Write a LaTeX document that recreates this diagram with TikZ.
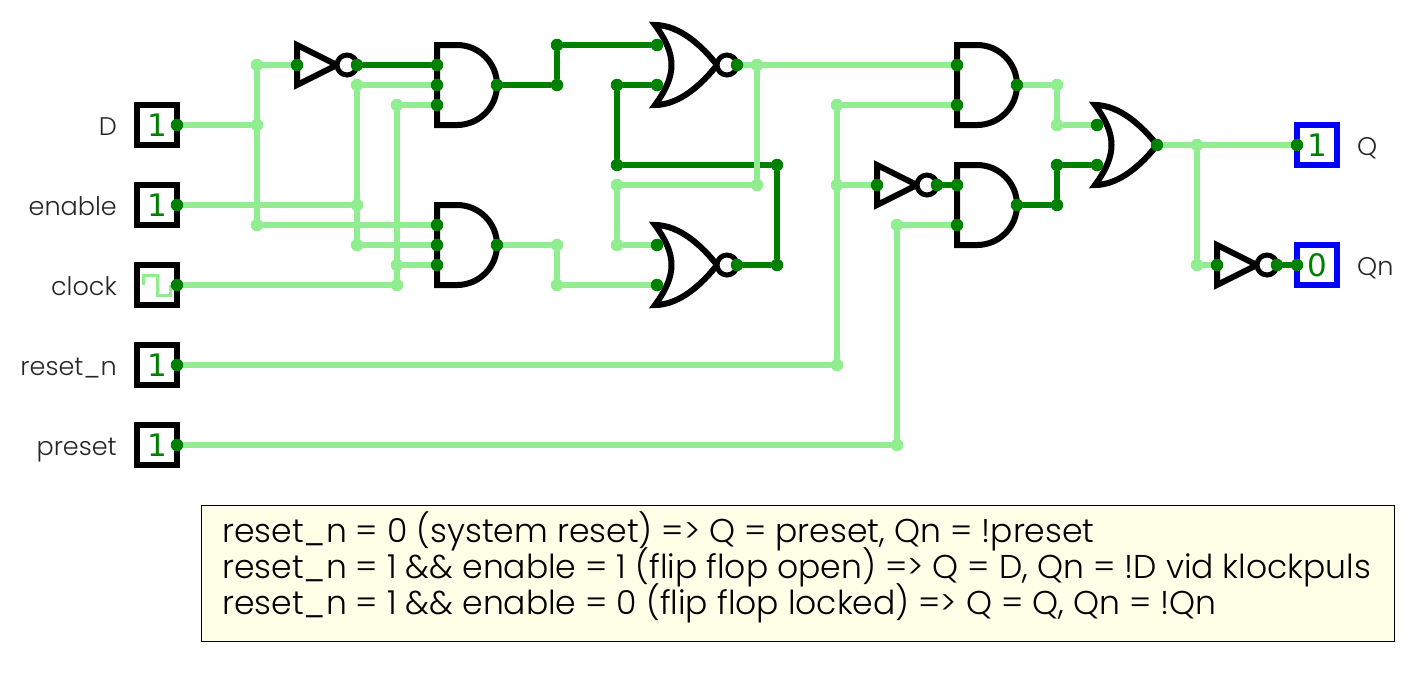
\documentclass[tikz,border=0pt]{standalone}
\usepackage{fontspec}
\setmainfont{Poppins}[UprightFont=* Light]
\newfontfamily\valuefont{DejaVu Sans}
\usepackage{xcolor}
\usetikzlibrary{backgrounds}
\definecolor{wireon}{HTML}{008000}
\definecolor{wireoff}{HTML}{90EE90}
\definecolor{notebg}{HTML}{FFFFE8}
\newcommand{\notefont}{\fontsize{33}{36}\selectfont\setlength{\lineskiplimit}{-50pt}\relax}

\begin{document}
\begin{tikzpicture}[x=1pt, y=-1pt,
    gate/.style={draw, line width=6pt, fill=white, miter limit=10},
    bubble/.style={draw, line width=5pt, fill=white},
    high/.style={draw, line width=6pt, wireon},
    low/.style={draw, line width=6pt, wireoff},
    pin/.style={circle, fill=wireon, inner sep=0pt, minimum size=12.5pt},
    joint/.style={circle, fill=wireoff, inner sep=0pt, minimum size=12.5pt},
    knot/.style={circle, fill=wireon, inner sep=0pt, minimum size=12.5pt},
    inbox/.style={draw, line width=6pt, fill=white, minimum size=40pt, inner sep=0pt, text=wireon, font=\valuefont\fontsize{31}{31}\selectfont},
    outbox/.style={inbox, draw=blue},
    label/.style={text=black!85, font=\fontsize{25.5}{26}\selectfont, inner sep=0pt},
    andgate/.pic={\draw[gate] (0,0) -- (20,0) arc (-90:90:40) -- (0,80) -- cycle;},
    orgate/.pic={\draw[gate] (0,0) .. controls (25,0) and (48,22) .. (62,40) .. controls (48,58) and (25,80) .. (0,80) .. controls (22,50) and (22,30) .. (0,0) -- cycle;},
    notgate/.pic={\draw[gate] (0,0) -- (40,20) -- (0,40) -- cycle; \draw[bubble] (50,20) circle (10);}]
    \useasboundingbox (0,0) rectangle (1424,672);

    % gates first, the pins sit on top of them
    \pic at (297,45) {notgate};
    \pic at (877,165) {notgate};
    \pic at (1217,245) {notgate};
    \pic at (437,45) {andgate};
    \pic at (437,205) {andgate};
    \pic at (957,45) {andgate};
    \pic at (957,165) {andgate};
    \pic at (655,25) {orgate};
    \draw[bubble] (727,65) circle (10);
    \pic at (655,225) {orgate};
    \draw[bubble] (727,265) circle (10);
    \pic at (1095,105) {orgate};

    % inputs and outputs
    \node[inbox] (dbox) at (157,125) {1};
    \node[inbox] (enbox) at (157,205) {1};
    \node[inbox] (clkbox) at (157,285) {};
    \node[inbox] (rstbox) at (157,365) {1};
    \node[inbox] (prebox) at (157,445) {1};
    \node[outbox] (qbox) at (1317,145) {1};
    \node[outbox] (qnbox) at (1317,265) {0};
    \draw[wireoff, line width=3pt] (143,285) |- (157,275) |- (170,295) -- (170,285);

    \node[label, anchor=base east] (dlabel) at (117,135) {D};
    \node[label, anchor=base east] (enlabel) at (117,215) {enable};
    \node[label, anchor=base east] (clklabel) at (117,295) {clock};
    \node[label, anchor=base east] (rstlabel) at (117,375) {reset\_n};
    \node[label, anchor=base east] (prelabel) at (117,455) {preset};
    \node[label, anchor=base west] (qlabel) at (1357,155) {Q};
    \node[label, anchor=base west] (qnlabel) at (1357,275) {Qn};

    % pins
    \node[pin] (dout) at (177,125) {};
    \node[pin] (enout) at (177,205) {};
    \node[pin] (clkout) at (177,285) {};
    \node[pin] (rstout) at (177,365) {};
    \node[pin] (preout) at (177,445) {};
    \node[pin] (notonein) at (297,65) {};
    \node[pin] (notoneout) at (357,65) {};
    \node[pin] (nottwoin) at (877,185) {};
    \node[pin] (nottwoout) at (937,185) {};
    \node[pin] (notthreein) at (1217,265) {};
    \node[pin] (notthreeout) at (1277,265) {};
    \node[pin] (andonea) at (437,65) {};
    \node[pin] (andoneb) at (437,85) {};
    \node[pin] (andonec) at (437,105) {};
    \node[pin] (andoneout) at (497,85) {};
    \node[pin] (andtwoa) at (437,225) {};
    \node[pin] (andtwob) at (437,245) {};
    \node[pin] (andtwoc) at (437,265) {};
    \node[pin] (andtwoout) at (497,245) {};
    \node[pin] (noronea) at (657,45) {};
    \node[pin] (noroneb) at (657,85) {};
    \node[pin] (noroneout) at (737,65) {};
    \node[pin] (nortwoa) at (657,245) {};
    \node[pin] (nortwob) at (657,285) {};
    \node[pin] (nortwoout) at (737,265) {};
    \node[pin] (andthreea) at (957,65) {};
    \node[pin] (andthreeb) at (957,105) {};
    \node[pin] (andthreeout) at (1017,85) {};
    \node[pin] (andfoura) at (957,185) {};
    \node[pin] (andfourb) at (957,225) {};
    \node[pin] (andfourout) at (1017,205) {};
    \node[pin] (orina) at (1097,125) {};
    \node[pin] (orinb) at (1097,165) {};
    \node[pin] (orout) at (1157,145) {};
    \node[pin] (qin) at (1297,145) {};
    \node[pin] (qnin) at (1297,265) {};

    % joints of the wires
    \node[joint] (dtop) at (257,65) {};
    \node[joint] (dmid) at (257,125) {};
    \node[joint] (dlow) at (257,225) {};
    \node[joint] (entop) at (357,85) {};
    \node[joint] (enmid) at (357,205) {};
    \node[joint] (enlow) at (357,245) {};
    \node[joint] (clktop) at (397,105) {};
    \node[joint] (clkmid) at (397,265) {};
    \node[joint] (clklow) at (397,285) {};
    \node[knot] (setone) at (557,85) {};
    \node[knot] (settwo) at (557,45) {};
    \node[joint] (rstone) at (557,245) {};
    \node[joint] (rsttwo) at (557,285) {};
    \node[joint] (fbone) at (757,65) {};
    \node[joint] (fbtwo) at (757,185) {};
    \node[joint] (fbthree) at (617,185) {};
    \node[joint] (fbfour) at (617,245) {};
    \node[knot] (bkone) at (777,265) {};
    \node[knot] (bktwo) at (777,165) {};
    \node[knot] (bkthree) at (617,165) {};
    \node[knot] (bkfour) at (617,85) {};
    \node[joint] (rstlow) at (837,365) {};
    \node[joint] (rstmid) at (837,185) {};
    \node[joint] (rsttop) at (837,105) {};
    \node[joint] (prelow) at (897,445) {};
    \node[joint] (pretop) at (897,225) {};
    \node[joint] (upone) at (1057,85) {};
    \node[joint] (uptwo) at (1057,125) {};
    \node[knot] (dnone) at (1057,205) {};
    \node[knot] (dntwo) at (1057,165) {};
    \node[joint] (qjoin) at (1197,145) {};
    \node[joint] (qturn) at (1197,265) {};

    % wires go under everything else
    \begin{scope}[on background layer]
    \draw[low] (dout) -- (dmid);
    \draw[low] (dtop) -- (dlow);
    \draw[low] (dtop) -- (notonein);
    \draw[low] (dlow) -- (andtwoa);
    \draw[low] (enout) -- (enmid);
    \draw[low] (entop) -- (enlow);
    \draw[low] (entop) -- (andoneb);
    \draw[low] (enlow) -- (andtwob);
    \draw[low] (clkout) -- (clklow);
    \draw[low] (clktop) -- (clklow);
    \draw[low] (clktop) -- (andonec);
    \draw[low] (clkmid) -- (andtwoc);
    \draw[high] (notoneout) -- (andonea);
    \draw[high] (andoneout) -- (setone);
    \draw[high] (setone) -- (settwo);
    \draw[high] (settwo) -- (noronea);
    \draw[low] (andtwoout) -- (rstone);
    \draw[low] (rstone) -- (rsttwo);
    \draw[low] (rsttwo) -- (nortwob);
    \draw[high] (nortwoout) -- (bkone);
    \draw[high] (bkone) -- (bktwo);
    \draw[high] (bktwo) -- (bkthree);
    \draw[high] (bkthree) -- (bkfour);
    \draw[high] (bkfour) -- (noroneb);
    \draw[low] (noroneout) -- (andthreea);
    \draw[low] (fbone) -- (fbtwo);
    \draw[low] (fbtwo) -- (fbthree);
    \draw[low] (fbthree) -- (fbfour);
    \draw[low] (fbfour) -- (nortwoa);
    \draw[low] (rstout) -- (rstlow);
    \draw[low] (rstlow) -- (rsttop);
    \draw[low] (rsttop) -- (andthreeb);
    \draw[low] (rstmid) -- (nottwoin);
    \draw[high] (nottwoout) -- (andfoura);
    \draw[low] (preout) -- (prelow);
    \draw[low] (prelow) -- (pretop);
    \draw[low] (pretop) -- (andfourb);
    \draw[low] (andthreeout) -- (upone);
    \draw[low] (upone) -- (uptwo);
    \draw[low] (uptwo) -- (orina);
    \draw[high] (andfourout) -- (dnone);
    \draw[high] (dnone) -- (dntwo);
    \draw[high] (dntwo) -- (orinb);
    \draw[low] (orout) -- (qin);
    \draw[low] (qjoin) -- (qturn);
    \draw[low] (qturn) -- (notthreein);
    \draw[high] (notthreeout) -- (qnin);
    \end{scope}

    \node[draw, fill=notebg, line width=1pt, anchor=north west, minimum width=1193pt, minimum height=136pt, inner sep=0pt] (note) at (201,505) {};
    \node[anchor=north west, inner sep=0pt, align=left, font=\notefont] (notetext) at (222,511) {reset\_n = 0 (system reset) => Q = preset, Qn = !preset\\
      reset\_n = 1 \&\& enable = 1 (flip flop open) => Q = D, Qn = !D vid klockpuls\\
      reset\_n = 1 \&\& enable = 0 (flip flop locked) => Q = Q, Qn = !Qn};
\end{tikzpicture}
\end{document}
